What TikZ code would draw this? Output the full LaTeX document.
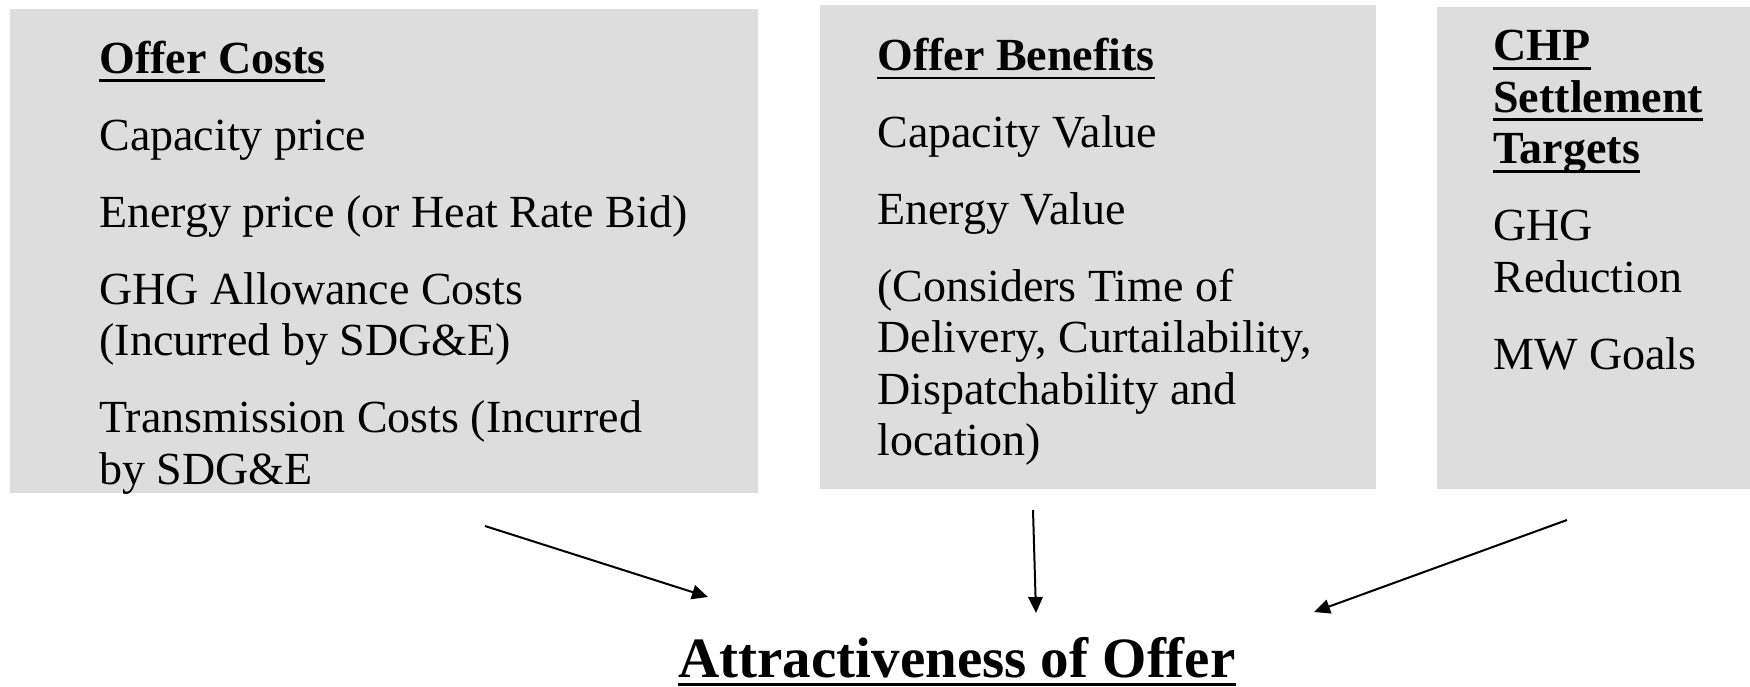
\documentclass[tikz,border=0pt]{standalone}
\usepackage{fontspec}
\setmainfont{Liberation Serif}
\usepackage{tikz}
\usetikzlibrary{arrows.meta}
\usetikzlibrary{positioning}

\definecolor{panelgray}{RGB}{221,221,221}
\newcommand{\headline}[1]{\setbox0\hbox{#1}\leavevmode\rlap{\rule[-4.5pt]{\wd0}{1.4pt}}\box0}

\tikzset{
	panel/.style={fill=panelgray, draw=none, anchor=north west, inner sep=0pt},
	itemtext/.style={anchor=base west, align=left, inner sep=0pt, font=\fontsize{23}{25.7}\selectfont},
	titletext/.style={anchor=base, inner sep=0pt, font=\fontsize{28.5}{32}\selectfont\bfseries},
	feed/.style={line width=1pt, -{Triangle[length=8pt,width=7.2pt]}}
}

\begin{document}
\begin{tikzpicture}[x=0.5pt,y=-0.5pt]
	\useasboundingbox (0,0) rectangle (1750,686);
	% grey panels
	\node[panel, minimum width=374pt, minimum height=242pt] (costs) at (10,9) {};
	\node[panel, minimum width=278pt, minimum height=242.2pt] (benefits) at (820,4.5) {};
	\node[panel, minimum width=156.5pt, minimum height=241pt] (chp) at (1437,7) {};
	% panel texts (anchored at the baseline of their last line)
	\node[itemtext] (coststext) at (99,484) {\headline{\textbf{Offer Costs}}\\[12.8pt]
		Capacity price\\[12.8pt]
		Energy price (or Heat Rate Bid)\\[12.8pt]
		GHG Allowance Costs\\
		(Incurred by SDG\&E)\\[12.8pt]
		Transmission Costs (Incurred\\
		by SDG\&E};
	\node[itemtext] (benefitstext) at (877,455.5) {\headline{\textbf{Offer Benefits}}\\[12.8pt]
		Capacity Value\\[12.8pt]
		Energy Value\\[12.8pt]
		(Considers Time of\\
		Delivery, Curtailability,\\
		Dispatchability and\\
		location)};
	\node[itemtext] (chptext) at (1493,369) {\headline{\textbf{CHP}}\\
		\headline{\textbf{Settlement}}\\
		\headline{\textbf{Targets}}\\[12.8pt]
		GHG\\
		Reduction\\[12.8pt]
		MW Goals};
	% result
	\node[titletext] (attract) at (957,677) {\headline{Attractiveness of Offer}};
	\coordinate (costsout) at (485,526);
	\coordinate (benefitsout) at (1033,510);
	\coordinate (chpout) at (1567,520);
	\coordinate (attractleft) at (708,597);
	\coordinate (attractmid) at (1036,613);
	\coordinate (attractright) at (1314,612);
	\draw[feed] (costsout) -- (attractleft);
	\draw[feed] (benefitsout) -- (attractmid);
	\draw[feed] (chpout) -- (attractright);
\end{tikzpicture}
\end{document}
